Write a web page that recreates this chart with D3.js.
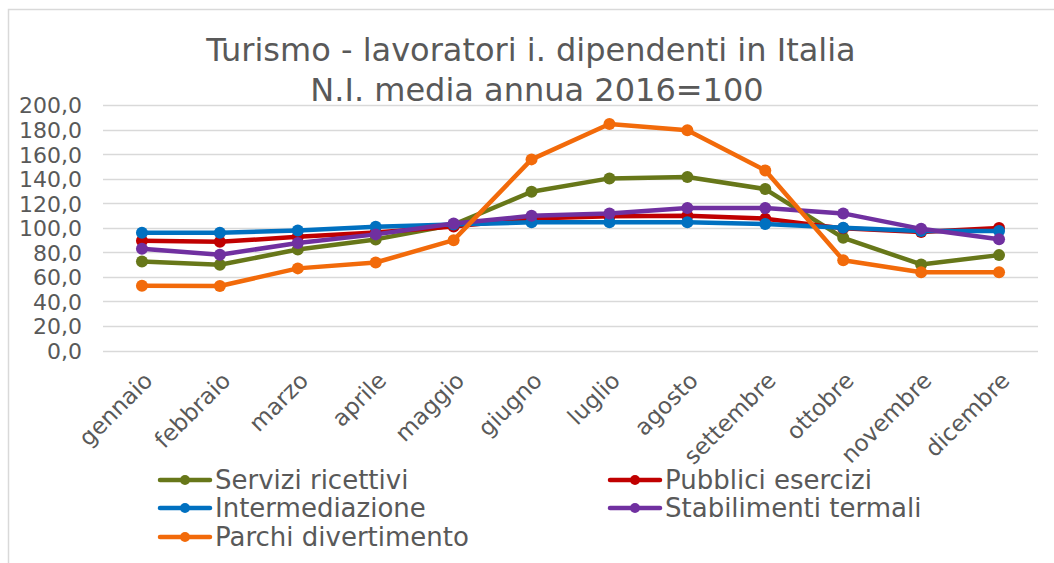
<!DOCTYPE html>
<html>
<head>
<meta charset="utf-8">
<script src="https://cdn.jsdelivr.net/npm/d3@7"></script>
<style>
  body { margin: 0; background: #fff; }
  text { font-family: "DejaVu Sans", Verdana, sans-serif; fill: #595959; }
</style>
</head>
<body>
<svg id="chart" width="1054" height="563"></svg>
<script>
var months = ["gennaio", "febbraio", "marzo", "aprile", "maggio", "giugno",
  "luglio", "agosto", "settembre", "ottobre", "novembre", "dicembre"];
var yTicks = [0, 20, 40, 60, 80, 100, 120, 140, 160, 180, 200];

var serviziRicettivi = [72.6, 69.8, 82.3, 90.5, 102.5, 129.3, 140.2, 141.3, 131.5, 91.8, 70.1, 77.7];
var pubbliciEsercizi = [89.4, 88.5, 92.6, 96.2, 101.0, 107.6, 109.3, 109.8, 107.4, 99.5, 96.5, 99.8];
var intermediazione = [95.9, 96.0, 97.8, 100.8, 102.7, 104.4, 104.4, 104.4, 103.0, 100.0, 97.3, 97.3];
var stabilimentiTermali = [82.9, 78.0, 87.5, 94.6, 103.5, 109.7, 111.7, 116.0, 116.0, 111.7, 99.1, 90.7];
var parchiDivertimento = [52.7, 52.5, 66.9, 71.7, 89.9, 155.7, 184.5, 179.4, 146.7, 73.6, 63.8, 63.8];

var series = [
  {name: "Servizi ricettivi", color: "#677719", values: serviziRicettivi},
  {name: "Pubblici esercizi", color: "#c00000", values: pubbliciEsercizi},
  {name: "Intermediazione", color: "#0070c0", values: intermediazione},
  {name: "Stabilimenti termali", color: "#7030a0", values: stabilimentiTermali},
  {name: "Parchi divertimento", color: "#f26a0a", values: parchiDivertimento}
];

var svg = d3.select("#chart");

// chart area border (right/bottom edges fall outside the picture)
svg.append("rect")
  .attr("x", 8.5).attr("y", 9.5)
  .attr("width", 1100).attr("height", 600)
  .attr("fill", "none")
  .attr("stroke", "#d9d9d9")
  .attr("stroke-width", 1.5);

var x = d3.scaleBand().domain(months).range([103, 1038]);
var y = d3.scaleLinear().domain([0, 200]).range([350.5, 105]);

// title
svg.append("text").attr("x", 531).attr("y", 61)
  .attr("text-anchor", "middle").style("font-size", "32px")
  .text("Turismo - lavoratori i. dipendenti in Italia");
svg.append("text").attr("x", 537).attr("y", 101)
  .attr("text-anchor", "middle").style("font-size", "32px")
  .text("N.I. media annua 2016=100");

// gridlines
svg.append("g").selectAll("line")
  .data(yTicks)
  .enter()
  .append("line")
  .attr("x1", 103).attr("x2", 1038)
  .attr("y1", function(d) { return Math.round(y(d)) + 0.5; })
  .attr("y2", function(d) { return Math.round(y(d)) + 0.5; })
  .attr("stroke", "#d9d9d9")
  .attr("stroke-width", 1.5);

// y axis labels
var yAxis = d3.axisLeft(y)
  .tickValues(yTicks)
  .tickSize(0)
  .tickPadding(0)
  .tickFormat(function(d) { return d3.format(".1f")(d).replace(".", ","); });
var gy = svg.append("g").attr("transform", "translate(82,0)").call(yAxis);
gy.select(".domain").remove();
gy.selectAll("text").style("font-size", "22px").attr("fill", "#595959").attr("dy", "0.36em");

// x axis labels
var xAxis = d3.axisBottom(x).tickSize(0).tickPadding(0);
var gx = svg.append("g").attr("transform", "translate(0,350)").call(xAxis);
gx.select(".domain").remove();
gx.selectAll("text")
  .style("font-size", "23px")
  .attr("fill", "#595959")
  .attr("text-anchor", "end")
  .attr("y", 0)
  .attr("dy", 0)
  .attr("transform", "translate(12,32) rotate(-45)");

// lines
var line = d3.line()
  .x(function(d, i) { return x(months[i]) + x.bandwidth() / 2; })
  .y(function(d) { return y(d); });

var lines_group = svg.append("g");
series.forEach(function(s) {
  var g = lines_group.append("g");
  g.append("path")
    .attr("d", line(s.values))
    .attr("fill", "none")
    .attr("stroke", s.color)
    .attr("stroke-width", 4.5)
    .attr("stroke-linejoin", "round");
  g.selectAll("circle")
    .data(s.values)
    .enter()
    .append("circle")
    .attr("cx", function(d, i) { return x(months[i]) + x.bandwidth() / 2; })
    .attr("cy", function(d) { return y(d); })
    .attr("r", 6)
    .attr("fill", s.color);
});

// legend
var legendPos = [[158, 480], [608, 480], [158, 508], [608, 508], [158, 537]];
var legend = svg.append("g").selectAll("g")
  .data(series)
  .enter()
  .append("g")
  .attr("transform", function(d, i) { return "translate(" + legendPos[i][0] + "," + legendPos[i][1] + ")"; });
legend.append("line")
  .attr("x1", 2).attr("x2", 52).attr("y1", 0).attr("y2", 0)
  .attr("stroke", function(d) { return d.color; })
  .attr("stroke-width", 4.5)
  .attr("stroke-linecap", "round");
legend.append("circle")
  .attr("cx", 27).attr("cy", 0).attr("r", 5)
  .attr("fill", function(d) { return d.color; });
legend.append("text")
  .attr("x", 57).attr("y", 0).attr("dy", "0.36em")
  .style("font-size", "26px")
  .text(function(d) { return d.name; });
</script>
</body>
</html>
